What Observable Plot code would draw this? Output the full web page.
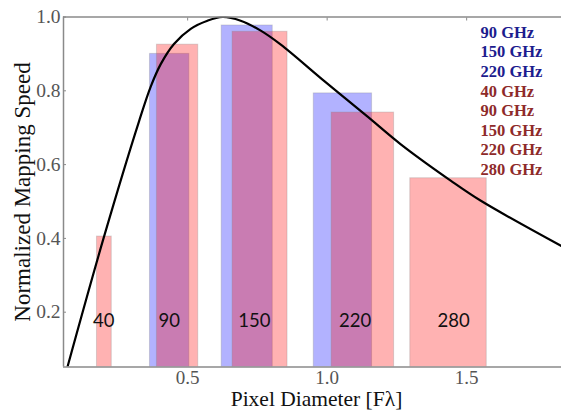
<!DOCTYPE html>
<html><head><meta charset="utf-8">
<script src="https://cdn.jsdelivr.net/npm/d3@7"></script>
<script src="https://cdn.jsdelivr.net/npm/@observablehq/plot@0.6"></script>
<style>body{margin:0;background:#fff} #chart{width:561px;height:410px}</style>
</head><body><div id="chart"></div>
<script>
// Blue (first set) bands
const blueFreqs = [90, 150, 220];
const blueX1 = [0.365, 0.622, 0.952];
const blueX2 = [0.506, 0.805, 1.161];
const blueSpeed = [0.900, 0.977, 0.793];
// Red (second set) bands
const redFreqs = [40, 90, 150, 220, 280];
const redX1 = [0.175, 0.390, 0.661, 1.016, 1.298];
const redX2 = [0.228, 0.538, 0.858, 1.240, 1.572];
const redSpeed = [0.405, 0.925, 0.960, 0.741, 0.563];
// Band labels
const bandLabels = ["40", "90", "150", "220", "280"];
const bandLabelX = [0.199, 0.434, 0.739, 1.100, 1.453];
const bandLabelY = 0.175;
// Mapping speed curve
const curveX = [0.069, 0.200, 0.326, 0.368, 0.404, 0.451, 0.511, 0.571, 0.625, 0.690, 0.762, 0.834, 0.990, 1.145, 1.264, 1.444, 1.551, 1.838];
const curveY = [0.051, 0.404, 0.718, 0.812, 0.873, 0.927, 0.968, 0.990, 1.000, 0.990, 0.963, 0.925, 0.826, 0.730, 0.655, 0.556, 0.502, 0.380];
// Axes
const xTicks = [0.5, 1.0, 1.5];
const yTicks = [0.2, 0.4, 0.6, 0.8, 1.0];
const xDomain = [0.055, 1.84];
const yDomain = [0.0515, 1.0];
const xLabel = "Pixel Diameter [F\u03bb]";
const yLabel = "Normalized Mapping Speed";
// Legend
const legendBlue = ["90 GHz", "150 GHz", "220 GHz"];
const legendRed = ["40 GHz", "90 GHz", "150 GHz", "220 GHz", "280 GHz"];

const blue = blueFreqs.map((f, i) => ({f, x1: blueX1[i], x2: blueX2[i], v: blueSpeed[i]}));
const red = redFreqs.map((f, i) => ({f, x1: redX1[i], x2: redX2[i], v: redSpeed[i]}));
const labels = bandLabels.map((t, i) => ({t, x: bandLabelX[i], y: bandLabelY}));
const curve = curveX.map((x, i) => ({x, y: curveY[i]}));

const serif = "'Liberation Serif', 'Times New Roman', serif";
const frameStyle = {stroke: "#8a8a8a", strokeWidth: 1.5};

const chart = Plot.plot({
  width: 561, height: 410,
  marginLeft: 63, marginRight: 0, marginTop: 16.5, marginBottom: 43.5,
  style: {fontFamily: serif, background: "#fff"},
  x: {domain: xDomain},
  y: {domain: yDomain},
  marks: [
    Plot.rect(blue, {x1: "x1", x2: "x2", y1: 0, y2: "v", fill: "blue", fillOpacity: 0.3, stroke: "#888", strokeOpacity: 0.3, clip: true}),
    Plot.rect(red, {x1: "x1", x2: "x2", y1: 0, y2: "v", fill: "red", fillOpacity: 0.3, stroke: "#888", strokeOpacity: 0.3, clip: true}),
    Plot.line(curve, {x: "x", y: "y", stroke: "black", strokeWidth: 2.2, curve: "catmull-rom", clip: true}),
    Plot.text(labels, {x: "x", y: "y", text: "t", fontFamily: "Lato, 'Open Sans', sans-serif", fontSize: 18.5, fill: "#111"}),
    Plot.ruleX([xDomain[0]], frameStyle),
    Plot.ruleY(yDomain, frameStyle),
    Plot.axisY(yTicks, {tickSize: 0, tickPadding: 3, tickFormat: d3.format(".1f"), fontSize: 19.5, fill: "#555", label: null}),
    Plot.axisX(xTicks, {tickSize: 0, tickPadding: 3, tickFormat: d3.format(".1f"), fontSize: 19, fill: "#555", label: null}),
    Plot.axisY(yTicks, {tickSize: -3, tickFormat: () => "", stroke: "#8a8a8a", label: null}),
    Plot.axisX(xTicks, {anchor: "top", tickSize: -3, tickFormat: () => "", stroke: "#8a8a8a", label: null}),
    Plot.text([yLabel], {frameAnchor: "left", textAnchor: "middle", lineAnchor: "middle", rotate: -90, dx: -41, fontSize: 23, fill: "#111"}),
    Plot.text([xLabel], {frameAnchor: "bottom", textAnchor: "middle", lineAnchor: "middle", dx: 4, dy: 32.5, fontSize: 21.5, fill: "#111"}),
    Plot.text([legendBlue.join("\n")], {frameAnchor: "top-left", dx: 417, dy: 7, textAnchor: "start", lineAnchor: "top", lineHeight: 1.18, fontSize: 16.5, fontWeight: "bold", fill: "#1c1c8e"}),
    Plot.text([legendRed.join("\n")], {frameAnchor: "top-left", dx: 417, dy: 66, textAnchor: "start", lineAnchor: "top", lineHeight: 1.18, fontSize: 16.5, fontWeight: "bold", fill: "#8e2a2a"})
  ]
});
document.getElementById("chart").appendChild(chart);
</script>
</body></html>
